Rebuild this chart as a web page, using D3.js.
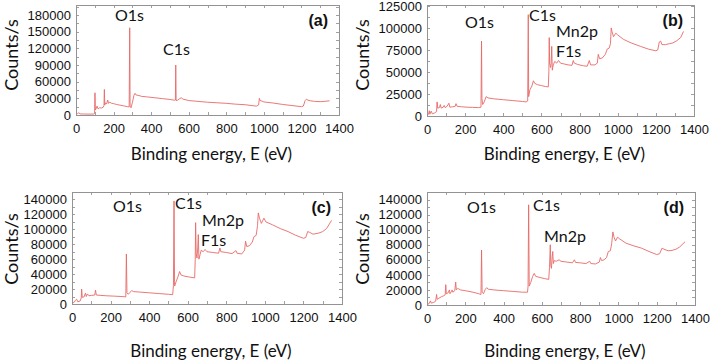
<!DOCTYPE html>
<html>
<head>
<meta charset="utf-8">
<script src="https://cdn.jsdelivr.net/npm/d3@7"></script>
<style>
  body { margin: 0; background: #fff; }
  svg { display: block; }
</style>
</head>
<body>
<svg id="chart" width="710" height="361"></svg>
<script>
// XPS survey spectra, [binding energy (eV), counts/s]
const spectrumA = [
  [0, 3000], [8, 2500], [15, 4000], [22, 2000], [40, 1800], [70, 1600], [95, 1800], [99, 2500],
  [101, 40000], [103, 9000], [108, 12000], [112, 16000], [118, 11000], [125, 13000], [135, 12500],
  [145, 14000], [149, 17000], [151, 46000], [153, 18000], [158, 22000], [163, 20000], [169, 27000],
  [173, 21000], [180, 23000], [190, 21000], [200, 20500], [215, 19000], [230, 18000], [245, 17000],
  [260, 16000], [275, 15000], [283, 14500], [286, 157000], [288, 16000], [293, 13000], [300, 22000],
  [308, 35000], [314, 39000], [320, 36000], [335, 35000], [350, 33500], [380, 32500], [420, 31000],
  [460, 29500], [500, 28000], [525, 26500], [529, 27000], [531, 90000], [533, 26000], [540, 26500],
  [550, 29000], [560, 31000], [570, 28500], [600, 26000], [650, 24500], [700, 23000], [750, 22000],
  [800, 21000], [850, 19500], [900, 18500], [960, 16000], [972, 18000], [976, 30000], [980, 26000],
  [990, 25000], [1000, 23500], [1050, 21500], [1100, 19000], [1150, 17000], [1200, 15000],
  [1210, 16000], [1220, 26000], [1227, 28500], [1235, 26500], [1250, 25500], [1270, 24500],
  [1300, 24000], [1320, 24500], [1350, 25500]
];

const spectrumB = [
  [0, 1500], [8, 2000], [12, 6000], [15, 2000], [22, 5500], [28, 2500], [40, 3500], [50, 5000],
  [53, 16000], [56, 9000], [65, 9500], [70, 13000], [74, 9000], [85, 10000], [90, 12000], [95, 9500],
  [105, 11000], [115, 14500], [120, 10000], [135, 10500], [148, 11000], [152, 14000], [158, 11000],
  [180, 10500], [210, 10000], [240, 9800], [270, 9500], [283, 10000], [286, 85000], [288, 20000],
  [292, 13000], [300, 16000], [310, 22000], [320, 20500], [350, 19500], [400, 18500], [450, 17500],
  [500, 16500], [520, 16000], [528, 17000], [531, 115000], [533, 22000], [540, 30000], [550, 34000],
  [558, 40000], [565, 37000], [580, 35500], [600, 34500], [620, 33500], [636, 33000], [639, 50000],
  [641, 89000], [643, 60000], [648, 55000], [651, 60000], [654, 79000], [657, 52000], [662, 58000],
  [670, 62000], [680, 60000], [690, 63000], [700, 60000], [720, 59000], [740, 58000], [760, 57500],
  [767, 63000], [772, 60000], [790, 58500], [820, 57000], [840, 56500], [851, 63000], [858, 58000],
  [880, 58000], [893, 60000], [898, 70000], [905, 65000], [920, 66000], [935, 70000], [945, 76000],
  [955, 77000], [962, 82000], [966, 100000], [970, 96000], [978, 90000], [990, 94000], [1000, 92000],
  [1030, 87000], [1070, 83000], [1120, 79000], [1160, 76000], [1200, 74000], [1210, 75000],
  [1218, 84000], [1225, 85000], [1232, 81000], [1250, 81000], [1270, 82000], [1290, 83000],
  [1310, 85500], [1330, 89000], [1345, 96000]
];

const spectrumC = [
  [0, 1500], [10, 2000], [18, 5000], [24, 6500], [30, 3000], [42, 4000], [48, 8000], [50, 20000],
  [53, 9000], [62, 9500], [70, 14500], [74, 10000], [80, 13500], [88, 11000], [100, 11500],
  [118, 12000], [122, 18500], [126, 12000], [150, 11500], [180, 11000], [220, 10500], [260, 10000],
  [279, 9500], [282, 67000], [285, 15000], [292, 13000], [300, 15500], [310, 18000], [320, 16500],
  [350, 16000], [400, 15000], [450, 14000], [500, 13000], [522, 12500], [526, 25000], [529, 138000],
  [532, 24000], [540, 30000], [550, 37000], [558, 43500], [565, 39000], [580, 37500], [610, 36000],
  [636, 35000], [639, 60000], [641, 109000], [644, 68000], [648, 61500], [652, 75000], [655, 93000],
  [658, 60000], [664, 66000], [670, 72000], [680, 70000], [690, 73000], [700, 70000], [730, 69000],
  [760, 68000], [767, 75000], [772, 70000], [800, 69000], [830, 67500], [850, 71500], [856, 68000],
  [880, 67000], [895, 72000], [900, 84000], [906, 77000], [920, 78000], [935, 83000], [943, 90000],
  [955, 92000], [962, 105000], [966, 122000], [972, 115000], [982, 108000], [995, 115000],
  [1005, 110000], [1040, 106000], [1080, 101000], [1120, 97000], [1160, 92000], [1200, 88000],
  [1212, 89000], [1222, 97000], [1232, 96000], [1250, 93500], [1280, 95000], [1300, 97000],
  [1320, 101000], [1346, 112000]
];

const spectrumD = [
  [0, 1000], [10, 1500], [18, 5500], [22, 2500], [35, 3500], [45, 5000], [50, 14000], [53, 7500],
  [62, 9000], [75, 11000], [85, 12000], [95, 13500], [98, 27000], [101, 15000], [110, 16000],
  [117, 20000], [120, 15000], [128, 18000], [131, 20000], [135, 17000], [145, 19000], [150, 30500],
  [153, 20000], [160, 22000], [165, 21500], [175, 20000], [200, 19000], [240, 17000], [270, 15000],
  [282, 14000], [285, 73000], [288, 17000], [295, 15000], [305, 21000], [312, 23000], [320, 21000],
  [350, 20000], [400, 19000], [450, 18000], [500, 17000], [525, 17000], [528, 25000], [531, 133000],
  [534, 25000], [542, 30000], [552, 38000], [560, 42000], [568, 38000], [590, 36500], [615, 35000],
  [636, 34000], [640, 50000], [644, 80000], [647, 52000], [650, 48600], [654, 64000], [657, 71000],
  [660, 55000], [665, 59000], [675, 58000], [690, 60000], [700, 58000], [730, 57000], [760, 56000],
  [770, 60000], [776, 56500], [800, 56000], [830, 55000], [850, 58000], [856, 55000], [880, 54500],
  [900, 57000], [906, 63000], [912, 59000], [925, 60000], [938, 63000], [947, 71000], [958, 72000],
  [965, 82000], [971, 97000], [977, 90000], [985, 85000], [995, 90000], [1005, 88000], [1040, 82000],
  [1080, 78500], [1120, 75500], [1160, 71000], [1200, 67000], [1215, 68000], [1228, 75500],
  [1238, 74000], [1260, 72000], [1280, 72500], [1300, 74000], [1320, 77000], [1348, 84000]
];

// axis ticks
const energyTicks = [0, 200, 400, 600, 800, 1000, 1200, 1400];
const countTicksA = [0, 30000, 60000, 90000, 120000, 150000, 180000];
const countTicksB = [0, 25000, 50000, 75000, 100000, 125000];
const countTicksCD = [0, 20000, 40000, 60000, 80000, 100000, 120000, 140000];

// peak labels per panel
const peakLabelsA = ["O1s", "C1s"];
const peakLabelsB = ["O1s", "C1s", "Mn2p", "F1s"];
const peakLabelsC = ["O1s", "C1s", "Mn2p", "F1s"];
const peakLabelsD = ["O1s", "C1s", "Mn2p"];

const lineColor = "#e66a68";
const frameColor = "#939393";

const panels = [
  { id: "(a)", data: spectrumA, yTicks: countTicksA, yMax: 198000, minorY: 15000,
    box: { l: 76, r: 339, t: 5, b: 115 }, labels: peakLabelsA,
    labelPos: [[39, 16], [87, 50]], titleY: 160, ylabX: 18, ylabY: 55 },
  { id: "(b)", data: spectrumB, yTicks: countTicksB, yMax: 126000, minorY: 12500,
    box: { l: 427, r: 694, t: 5, b: 116 }, labels: peakLabelsB,
    labelPos: [[38, 23], [102, 16], [129, 32], [129, 52]], titleY: 160, ylabX: 369, ylabY: 55 },
  { id: "(c)", data: spectrumC, yTicks: countTicksCD, yMax: 150000, minorY: 10000,
    box: { l: 72, r: 342, t: 192, b: 304 }, labels: peakLabelsC,
    labelPos: [[41, 20], [103, 17], [130, 34], [129, 54]], titleY: 357, ylabX: 18, ylabY: 249 },
  { id: "(d)", data: spectrumD, yTicks: countTicksCD, yMax: 150000, minorY: 10000,
    box: { l: 427, r: 695, t: 192, b: 305 }, labels: peakLabelsD,
    labelPos: [[40, 21], [106, 19], [117, 50]], titleY: 357, ylabX: 369, ylabY: 249 }
];

const svg = d3.select("#chart");

panels.forEach(function (p) {
  const b = p.box;
  const x = d3.scaleLinear().domain([0, 1400]).range([b.l, b.r]);
  const y = d3.scaleLinear().domain([0, p.yMax]).range([b.b, b.t]);
  const g = svg.append("g");

  // spectrum line
  g.append("path")
    .datum(p.data)
    .attr("fill", "none")
    .attr("stroke", lineColor)
    .attr("stroke-width", 0.9)
    .attr("stroke-linejoin", "round")
    .attr("d", d3.line().x((d) => x(d[0])).y((d) => y(d[1])));

  // small inward ticks on all four sides
  const minorX = d3.range(0, 1401, 100);
  const minorYv = d3.range(0, p.yMax, p.minorY);
  const tk = g.append("g").attr("stroke", "#a0a0a0").attr("stroke-width", 1);
  minorX.forEach(function (v) {
    const px = Math.round(x(v)) + 0.5;
    tk.append("line").attr("x1", px).attr("x2", px).attr("y1", b.b).attr("y2", b.b - 3);
    tk.append("line").attr("x1", px).attr("x2", px).attr("y1", b.t).attr("y2", b.t + 3);
  });
  minorYv.forEach(function (v) {
    const py = Math.round(y(v)) + 0.5;
    tk.append("line").attr("x1", b.l).attr("x2", b.l + 3).attr("y1", py).attr("y2", py);
    tk.append("line").attr("x1", b.r).attr("x2", b.r - 3).attr("y1", py).attr("y2", py);
  });

  // frame
  g.append("rect")
    .attr("x", b.l + 0.5).attr("y", b.t + 0.5)
    .attr("width", b.r - b.l).attr("height", b.b - b.t)
    .attr("fill", "none").attr("stroke", frameColor).attr("stroke-width", 1);

  // axes (labels only)
  const xAxis = g.append("g")
    .attr("transform", "translate(0," + b.b + ")")
    .call(d3.axisBottom(x).tickValues(energyTicks).tickSize(0).tickPadding(9).tickFormat(d3.format("d")));
  const yAxis = g.append("g")
    .attr("transform", "translate(" + b.l + ",0)")
    .call(d3.axisLeft(y).tickValues(p.yTicks).tickSize(0).tickPadding(5).tickFormat(d3.format("d")));
  [xAxis, yAxis].forEach(function (a) {
    a.select(".domain").remove();
    a.selectAll("text")
      .attr("font-family", "'Liberation Sans', Arial, sans-serif")
      .attr("font-size", "13px")
      .attr("fill", "#111");
  });

  // axis titles
  g.append("text")
    .attr("x", (b.l + b.r) / 2 + 4)
    .attr("y", p.titleY)
    .attr("text-anchor", "middle")
    .attr("font-family", "Lato, 'Open Sans', sans-serif")
    .attr("font-size", "17px")
    .attr("fill", "#111")
    .text("Binding energy, E (eV)");
  g.append("text")
    .attr("transform", "translate(" + p.ylabX + "," + p.ylabY + ") rotate(-90)")
    .attr("text-anchor", "middle")
    .attr("font-family", "Lato, 'Open Sans', sans-serif")
    .attr("font-size", "18px")
    .attr("fill", "#111")
    .text("Counts/s");

  // peak labels
  p.labels.forEach(function (t, i) {
    g.append("text")
      .attr("x", b.l + p.labelPos[i][0])
      .attr("y", b.t + p.labelPos[i][1])
      .attr("font-family", "Lato, 'Open Sans', sans-serif")
      .attr("font-size", "16px")
      .attr("fill", "#111")
      .text(t);
  });

  // panel letter
  g.append("text")
    .attr("x", b.r - 11)
    .attr("y", b.t + 21)
    .attr("text-anchor", "end")
    .attr("font-family", "'Liberation Sans', Arial, sans-serif")
    .attr("font-weight", "bold")
    .attr("font-size", "16px")
    .attr("fill", "#111")
    .text(p.id);
});
</script>
</body>
</html>
